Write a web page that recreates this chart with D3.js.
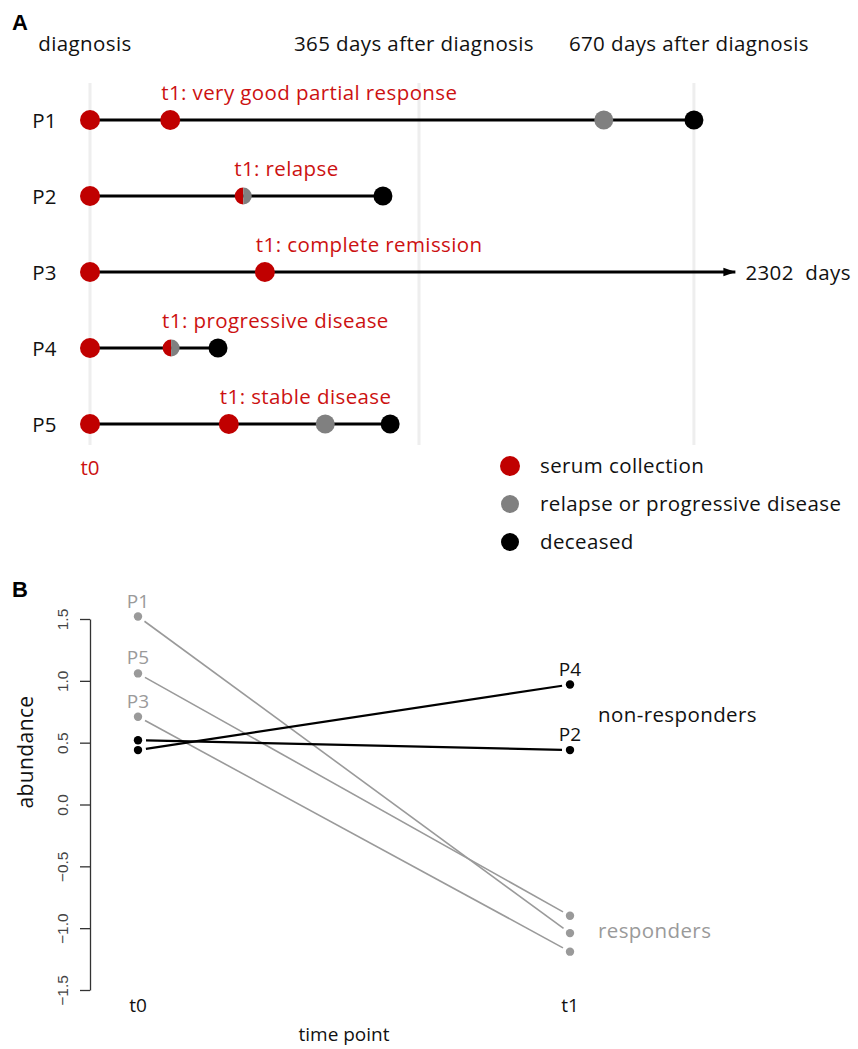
<!DOCTYPE html>
<html>
<head>
<meta charset="utf-8">
<script src="https://cdn.jsdelivr.net/npm/d3@7/dist/d3.min.js"></script>
<style>
  html, body { margin: 0; padding: 0; background: #fff; }
  text { font-family: "Open Sans", "DejaVu Sans", sans-serif; }
  .wide { letter-spacing: 0.4px; }
</style>
</head>
<body>
<svg id="chart" width="858" height="1049"></svg>
<script>
// ---------- Panel A data ----------
const patients = ["P1", "P2", "P3", "P4", "P5"];
const gridDays = [0, 365, 670];
const gridLabels = ["diagnosis", "365 days after diagnosis", "670 days after diagnosis"];
const t1Days = [89, 170, 194, 90, 154];
const t1Labels = ["t1: very good partial response", "t1: relapse", "t1: complete remission",
                  "t1: progressive disease", "t1: stable disease"];
const t1IsRelapse = [false, true, false, true, false];
const relapseDays = [570, null, null, null, 261];
const deathDays = [670, 325, null, 142, 333];
const lineEndDays = [670, 325, 716, 142, 333];   // P3 is censored: drawn as arrow
const censoredLabel = "2302  days";
const legendLabels = ["serum collection", "relapse or progressive disease", "deceased"];

// ---------- Panel B data ----------
const timePoints = ["t0", "t1"];
const responders = ["P1", "P5", "P3"];
const responderT0 = [1.52, 1.06, 0.71];
const responderT1 = [-1.04, -0.90, -1.19];
const nonResponders = ["P2", "P4"];
const nonResponderT0 = [0.52, 0.44];
const nonResponderT1 = [0.44, 0.97];
const yTicks = [-1.5, -1.0, -0.5, 0.0, 0.5, 1.0, 1.5];

const RED = "#c00000", GRAY = "#808080", LGRAY = "#9a9a9a";
const FS = 20.5;
const svg = d3.select("#chart");

// ================= Panel A =================
const xA = d3.scaleLinear().domain([0, 365]).range([90, 419]);
const yA = d3.scalePoint().domain(patients).range([120, 424]);

svg.append("text").attr("x", 12).attr("y", 30).text("A")
  .style("font-family", "Liberation Sans, Arial, sans-serif")
  .attr("font-weight", "bold").attr("font-size", 22);

// grid lines
svg.selectAll(".gridA").data(gridDays).join("line")
  .attr("x1", d => xA(d)).attr("x2", d => xA(d))
  .attr("y1", 83).attr("y2", 445)
  .attr("stroke", "#eeeeee").attr("stroke-width", 3);

svg.selectAll(".gridLab").data(gridLabels).join("text").attr("class", "wide")
  .attr("x", (d, i) => xA(gridDays[i]) - 5).attr("y", 51)
  .attr("text-anchor", "middle").attr("font-size", FS).attr("fill", "#111")
  .text(d => d);

// arrow marker
svg.append("defs").append("marker")
  .attr("id", "arrow").attr("viewBox", "0 0 10 10")
  .attr("refX", 10).attr("refY", 5).attr("markerWidth", 4).attr("markerHeight", 4)
  .attr("markerUnits", "strokeWidth").attr("orient", "auto")
  .append("path").attr("d", "M0,1.5 L10,5 L0,8.5 Z").attr("fill", "#000");

const rows = patients.map((p, i) => ({
  p, t1: t1Days[i], lab: t1Labels[i], half: t1IsRelapse[i],
  rel: relapseDays[i], death: deathDays[i], end: lineEndDays[i]
}));

svg.selectAll(".rowline").data(rows).join("line")
  .attr("x1", xA(0)).attr("x2", d => xA(d.end))
  .attr("y1", d => yA(d.p)).attr("y2", d => yA(d.p))
  .attr("stroke", "#000").attr("stroke-width", 3)
  .attr("marker-end", d => d.death === null ? "url(#arrow)" : null);

svg.selectAll(".rowlab").data(rows).join("text").attr("class", "wide")
  .attr("x", 57).attr("y", d => yA(d.p) + 8)
  .attr("text-anchor", "end").attr("font-size", FS).attr("fill", "#111")
  .text(d => d.p);

// t0 serum collection
svg.selectAll(".t0dot").data(rows).join("circle")
  .attr("cx", xA(0)).attr("cy", d => yA(d.p)).attr("r", 10).attr("fill", RED);

// t1
rows.forEach(d => {
  const cx = xA(d.t1), cy = yA(d.p);
  if (d.half) {
    const arc = d3.arc().innerRadius(0).outerRadius(8.5);
    svg.append("path").attr("transform", `translate(${cx},${cy})`)
      .attr("d", arc({startAngle: Math.PI, endAngle: 2 * Math.PI})).attr("fill", RED);
    svg.append("path").attr("transform", `translate(${cx},${cy})`)
      .attr("d", arc({startAngle: 0, endAngle: Math.PI})).attr("fill", GRAY);
  } else {
    svg.append("circle").attr("cx", cx).attr("cy", cy).attr("r", 10).attr("fill", RED);
  }
  svg.append("text").attr("class", "wide").attr("x", cx - 9).attr("y", cy - 20)
    .attr("font-size", FS).attr("fill", "#cc1111").text(d.lab);
  if (d.rel !== null) {
    svg.append("circle").attr("cx", xA(d.rel)).attr("cy", cy).attr("r", 9.5).attr("fill", GRAY);
  }
  if (d.death !== null) {
    svg.append("circle").attr("cx", xA(d.death)).attr("cy", cy).attr("r", 9.5).attr("fill", "#000");
  } else {
    svg.append("text").attr("class", "wide").attr("x", xA(d.end) + 10).attr("y", cy + 8)
      .attr("font-size", FS).attr("fill", "#111").style("white-space", "pre")
      .text(censoredLabel);
  }
});

svg.append("text").attr("x", xA(0)).attr("y", 475).attr("text-anchor", "middle")
  .attr("font-size", FS).attr("fill", "#cc1111").text("t0");

// legend
const legColors = [RED, GRAY, "#000"];
const legY = d3.scalePoint().domain(legendLabels).range([466, 542]);
svg.selectAll(".legdot").data(legendLabels).join("circle")
  .attr("cx", 510).attr("cy", d => legY(d)).attr("r", (d, i) => i === 0 ? 10 : 9)
  .attr("fill", (d, i) => legColors[i]);
svg.selectAll(".legtxt").data(legendLabels).join("text").attr("class", "wide")
  .attr("x", 540).attr("y", d => legY(d) + 7)
  .attr("font-size", FS).attr("fill", "#111").text(d => d);

// ================= Panel B =================
svg.append("text").attr("x", 12).attr("y", 597).text("B")
  .style("font-family", "Liberation Sans, Arial, sans-serif")
  .attr("font-weight", "bold").attr("font-size", 22);

const xB = d3.scalePoint().domain(timePoints).range([138, 570]);
const yB = d3.scaleLinear().domain([-1.5, 1.5]).range([990, 619]);

const axis = svg.append("g").attr("transform", "translate(90,0)")
  .call(d3.axisLeft(yB).tickValues(yTicks).tickSize(10).tickSizeOuter(0)
        .tickFormat(d3.format(".1f")));
axis.select(".domain").attr("stroke", "#333").attr("stroke-width", 1.3);
axis.selectAll(".tick line").attr("stroke", "#333").attr("stroke-width", 1.3);
axis.selectAll(".tick text")
  .attr("transform", "rotate(-90)")
  .attr("x", 0).attr("y", -22).attr("dy", 0)
  .attr("text-anchor", "middle")
  .style("font-family", "Liberation Sans, Arial, sans-serif")
  .attr("font-size", 15.5).attr("fill", "#444")
  .text(d => d3.format(".1f")(d).replace("-", "\u2212"));

svg.append("text").attr("class", "wide").attr("transform", "translate(33,752) rotate(-90)")
  .attr("text-anchor", "middle").attr("font-size", 21).attr("fill", "#111").text("abundance");

svg.selectAll(".tp").data(timePoints).join("text")
  .attr("x", d => xB(d)).attr("y", 1012).attr("text-anchor", "middle")
  .attr("font-size", 19).attr("fill", "#111").text(d => d);
svg.append("text").attr("x", 344).attr("y", 1041).attr("text-anchor", "middle")
  .attr("font-size", 19).attr("fill", "#111").text("time point");

function series(names, t0, t1) {
  return names.map((n, i) => ({ n, v: [t0[i], t1[i]] }));
}
const respData = series(responders, responderT0, responderT1);
const nonData = series(nonResponders, nonResponderT0, nonResponderT1);

function drawGroup(data, color, width) {
  const gap = 8;
  data.forEach(d => {
    const x0 = xB("t0"), y0 = yB(d.v[0]), x1 = xB("t1"), y1 = yB(d.v[1]);
    const len = Math.hypot(x1 - x0, y1 - y0);
    const ux = (x1 - x0) / len, uy = (y1 - y0) / len;
    svg.append("line")
      .attr("x1", x0 + ux * gap).attr("y1", y0 + uy * gap)
      .attr("x2", x1 - ux * gap).attr("y2", y1 - uy * gap)
      .attr("stroke", color).attr("stroke-width", width);
    timePoints.forEach((t, j) => {
      svg.append("circle").attr("cx", xB(t)).attr("cy", yB(d.v[j]))
        .attr("r", 4.2).attr("fill", color);
    });
  });
}
drawGroup(respData, LGRAY, 1.6);
drawGroup(nonData, "#000", 2.2);

// point labels
svg.selectAll(".rlab").data(respData).join("text")
  .attr("x", xB("t0")).attr("y", d => yB(d.v[0]) - 9).attr("text-anchor", "middle")
  .attr("font-size", 19).attr("fill", LGRAY).text(d => d.n);
svg.selectAll(".nlab").data(nonData).join("text")
  .attr("x", xB("t1")).attr("y", d => yB(d.v[1]) - 9).attr("text-anchor", "middle")
  .attr("font-size", 19).attr("fill", "#111").text(d => d.n);

svg.append("text").attr("class", "wide").attr("x", 598).attr("y", 722)
  .attr("font-size", FS).attr("fill", "#111").text("non-responders");
svg.append("text").attr("class", "wide").attr("x", 598).attr("y", 938)
  .attr("font-size", FS).attr("fill", LGRAY).text("responders");
</script>
</body>
</html>
